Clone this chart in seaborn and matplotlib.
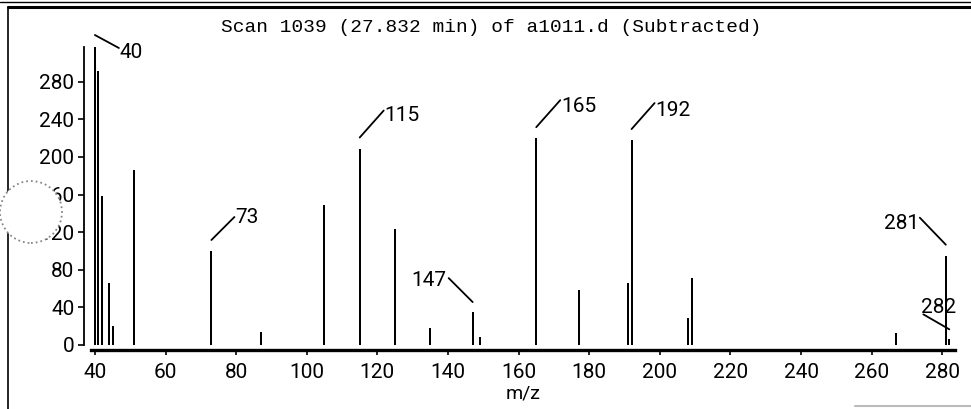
# Libraries
import matplotlib.pyplot as plt
import seaborn as sns
from matplotlib.lines import Line2D
from matplotlib.patches import Ellipse
from matplotlib.transforms import offset_copy

# Mass spectrum, scan 1039
mz = [40, 41, 42, 44, 45, 51, 73, 87, 105, 115, 125, 135, 147, 149,
      165, 177, 191, 192, 208, 209, 267, 281, 282]
abundance = [317, 292, 159, 66, 20, 186, 100, 14, 149, 209, 123, 18, 35, 8,
             220, 59, 66, 218, 29, 71, 13, 95, 6]
y_ticks = [0, 40, 80, 120, 160, 200, 240, 280]
x_ticks = [40, 60, 80, 100, 120, 140, 160, 180, 200, 220, 240, 260, 280]
title = 'Scan 1039 (27.832 min) of a1011.d (Subtracted)'

# labelled peaks: leader start, leader end, text anchor (pixel offsets from peak top), alignment
labels = {
    40: ((0, 12), (24, -1), (25, -5), 'left'),
    73: ((0, 11), (23, 34), (24, 33), 'left'),
    115: ((0, 11), (24, 38), (25, 33), 'left'),
    147: ((0, 10), (-24, 34), (-26, 32), 'right'),
    165: ((0, 11), (24, 38), (25, 32), 'left'),
    192: ((0, 11), (23, 37), (24, 30), 'left'),
    281: ((0, 11), (-26, 38), (-27, 32), 'right'),
    282: ((0, 10), (-26, 25), (-11, 32), 'center'),
}

sns.set_style('ticks')
plt.rcParams['font.family'] = ['Roboto', 'DejaVu Sans']
plt.rcParams['text.color'] = 'black'
plt.rcParams['axes.labelcolor'] = 'black'

W, H = 971, 409
fig = plt.figure(figsize=(W / 100, H / 100), dpi=100)
ax = fig.add_axes([91 / W, 64 / H, 864 / W, 298 / H])

sns.barplot(x=mz, y=abundance, native_scale=True, color='black', saturation=1,
            width=0.55, linewidth=0, errorbar=None, ax=ax)

ax.set_xlim(38.9, 283.6)
ax.set_ylim(0, max(abundance))
ax.set_xticks(x_ticks)
ax.set_xticklabels([str(t) for t in x_ticks])
ax.set_yticks(y_ticks)
ax.set_yticklabels([str(t) for t in y_ticks])
ax.set_xlabel('m/z', fontsize=14, labelpad=2)
ax.set_ylabel('')

sns.despine(ax=ax)
ax.spines['left'].set_position(('outward', 5))
ax.spines['bottom'].set_position(('outward', 3.6))
ax.spines['left'].set_linewidth(1.3)
ax.spines['bottom'].set_linewidth(2.4)
ax.spines['left'].set_color('black')
ax.spines['bottom'].set_color('black')
ax.tick_params(axis='y', length=4.5, width=1.2, pad=2.5, labelsize=15, colors='black')
ax.tick_params(axis='x', length=3.5, width=1.2, pad=6, labelsize=15, colors='black')

# peak labels with leader lines
for m, (p0, p1, pt, ha) in labels.items():
    v = abundance[mz.index(m)]
    t0 = offset_copy(ax.transData, fig=fig, x=p0[0], y=p0[1], units='dots')
    t1 = offset_copy(ax.transData, fig=fig, x=p1[0], y=p1[1], units='dots')
    ax.annotate('', xy=(m, v), xycoords=t0, xytext=(m, v), textcoords=t1,
                arrowprops=dict(arrowstyle='-', color='black', lw=1.3,
                                shrinkA=0, shrinkB=0), annotation_clip=False)
    ax.annotate(str(m), xy=(m, v), xytext=pt, textcoords='offset pixels',
                ha=ha, va='center', fontsize=15, annotation_clip=False)

fig.text(491 / W, 1 - 27 / H, title, ha='center', va='center', fontsize=14,
         family=['Liberation Mono', 'DejaVu Sans Mono'])

# frame of the printout
fig.add_artist(Line2D([8 / W, 8 / W], [0, 1 - 7 / H], transform=fig.transFigure, color='black', lw=1.2))
fig.add_artist(Line2D([8 / W, 1], [1 - 7 / H, 1 - 7 / H], transform=fig.transFigure, color='black', lw=2.2))
fig.add_artist(Line2D([0, 1], [1 - 2 / H, 1 - 2 / H], transform=fig.transFigure, color='black', lw=1))
fig.add_artist(Line2D([855 / W, 1], [3 / H, 3 / H], transform=fig.transFigure, color='#bbbbbb', lw=1.5))

# stain on the scan
stain = Ellipse((31 / W, 1 - 212 / H), 62 / W, 62 / H, transform=fig.transFigure,
                facecolor='white', edgecolor='#888888', linestyle=':', lw=1.3, zorder=10)
fig.add_artist(stain)

plt.savefig('out.png', dpi=100)
